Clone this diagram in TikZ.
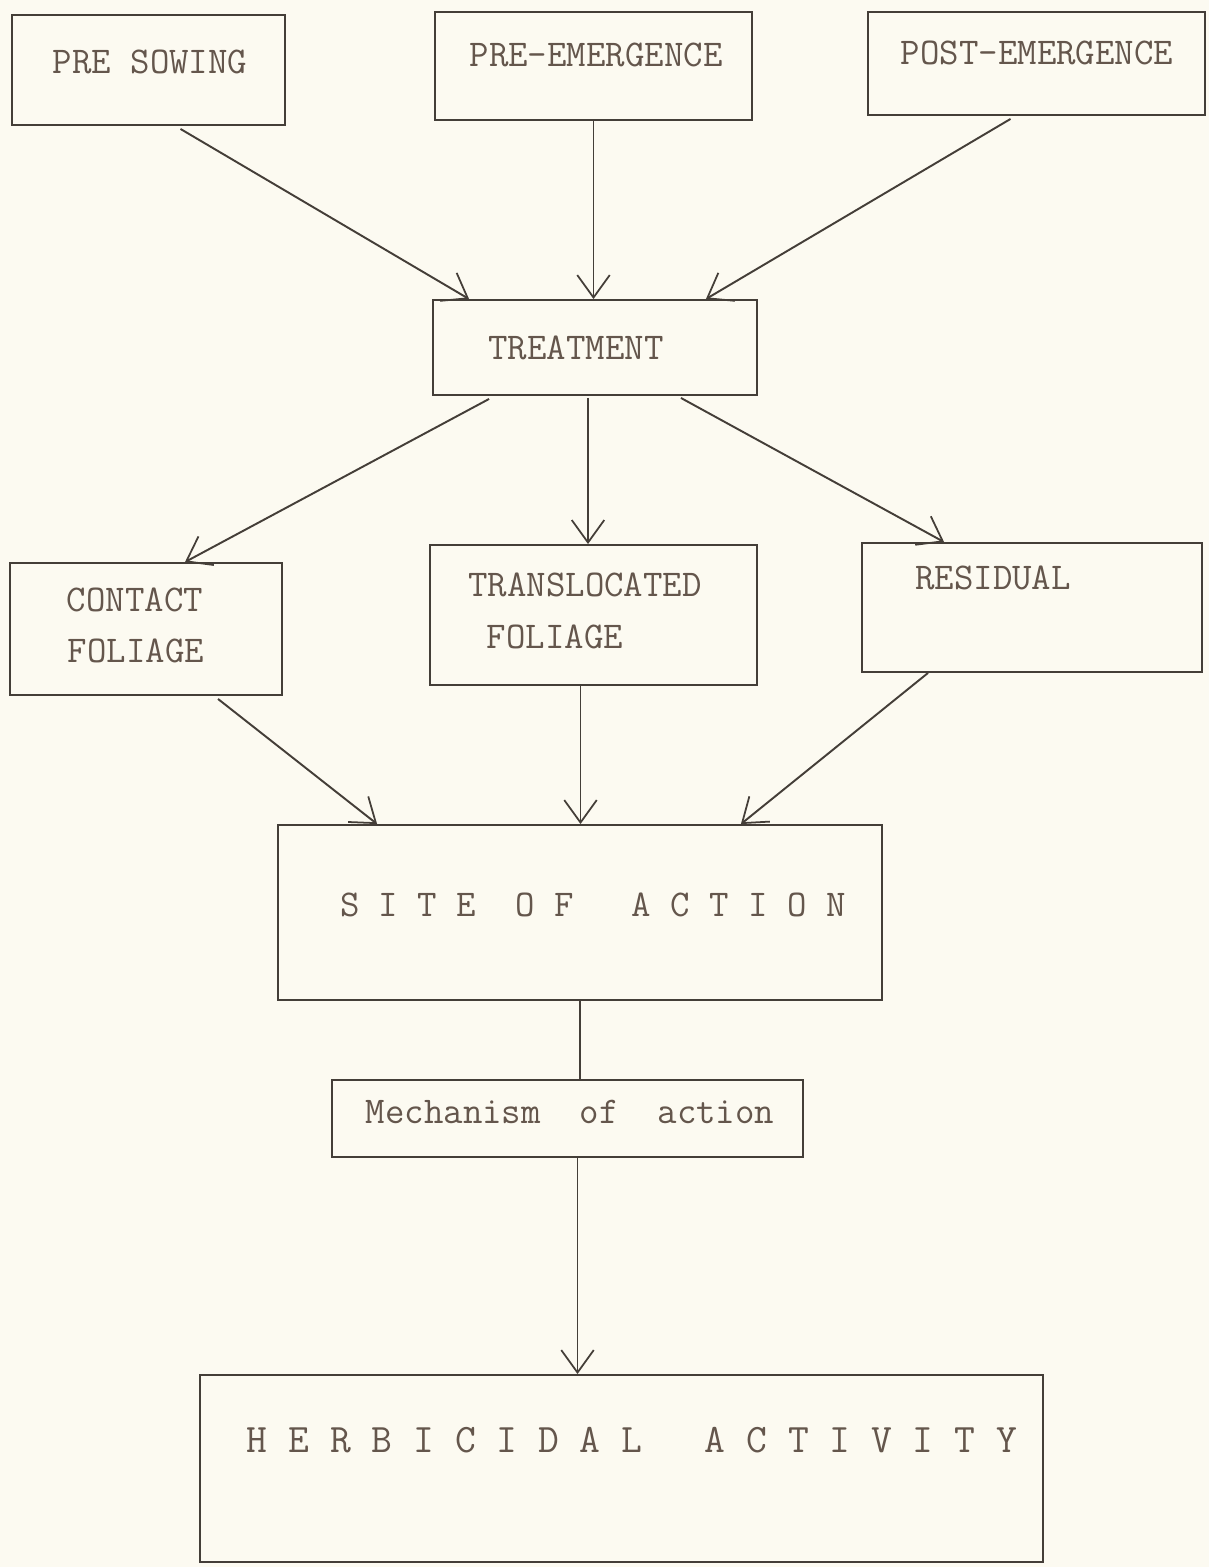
\documentclass[tikz,border=0pt]{standalone}
\usepackage{fontspec}
\usepackage{tikz}
\usetikzlibrary{arrows.meta, positioning, calc}
\definecolor{cPaper}{RGB}{252,250,241}
\definecolor{cLine}{RGB}{68,62,56}
\definecolor{cInk}{RGB}{100,86,76}
\tikzset{
	box/.style ={rectangle, draw=cLine, line width=1.1pt, inner sep=0pt},
	lbl/.style ={text=cInk, font={\ttfamily\fontsize{21.5}{26}\selectfont}, inner sep=0pt, anchor=center},
	flow/.style={-{Straight Barb[length=4.5mm, width=6.5mm, line width=1pt]}, draw=cLine, line width=1.1pt},
	link/.style={draw=cLine, line width=1.1pt},
}
\begin{document}
\begin{tikzpicture}[x=0.02cm, y=-0.02cm]
	\fill[cPaper] (0,0) rectangle (1209,1567);
	\useasboundingbox (0,0) rectangle (1209,1567);
	% application timing
	\node[box, minimum width=5.46cm, minimum height=2.2cm] (pre) at (148.5,70) {};
	\node[box, minimum width=6.34cm, minimum height=2.16cm] (preem) at (593.5,66) {};
	\node[box, minimum width=6.74cm, minimum height=2.06cm] (postem) at (1036.5,63.5) {};
	\node[lbl] (tpre) at (150,62) {PRE SOWING};
	\node[lbl] (tpreem) at (596,55) {PRE-EMERGENCE};
	\node[lbl] (tpostem) at (1037,53) {POST-EMERGENCE};
	\node[box, minimum width=6.48cm, minimum height=1.9cm] (treat) at (595,347.5) {};
	\node[lbl] (ttreat) at (576,348) {TREATMENT};
	% kinds of herbicide
	\node[box, minimum width=5.44cm, minimum height=2.64cm] (contact) at (146,629) {};
	\node[box, minimum width=6.54cm, minimum height=2.8cm] (transl) at (593.5,615) {};
	\node[box, minimum width=6.8cm, minimum height=2.58cm] (resid) at (1032,607.5) {};
	\node[lbl] (tcontact) at (135,600) {CONTACT};
	\node[lbl] (tcontactb) at (136,651) {FOLIAGE};
	\node[lbl] (ttransl) at (585,585) {TRANSLOCATED};
	\node[lbl] (ttranslb) at (555,637) {FOLIAGE};
	\node[lbl] (tresid) at (993,578) {RESIDUAL};
	\node[box, minimum width=12.08cm, minimum height=3.5cm] (site) at (580,912.5) {};
	\node[lbl] (tsite) at (593,905) {S~I~T~E~~O~F~~~A~C~T~I~O~N};
	\node[box, minimum width=9.42cm, minimum height=1.54cm] (mech) at (567.5,1118.5) {};
	\node[lbl] (tmech) at (570,1112) {Mechanism~~of~~action};
	\node[box, minimum width=16.86cm, minimum height=3.74cm] (herb) at (621.5,1468.5) {};
	\node[lbl, font={\ttfamily\fontsize{23}{28}\selectfont}] (therb) at (632,1440) {H~E~R~B~I~C~I~D~A~L~~~A~C~T~I~V~I~T~Y};
	% connectors
	\draw[flow] ($(pre.south)+(32,3)$) -- ($(treat.north west)+(37,0)$);
	\draw[flow] (preem.south) -- (preem.south |- treat.north);
	\draw[flow] ($(postem.south)+(-26,3)$) -- ($(treat.north east)+(-52,0)$);
	\draw[flow] ($(treat.south west)+(57,3)$) -- ($(contact.north)+(39,0)$);
	\draw[flow] ($(treat.south)+(-7,2)$) -- ($(treat.south |- transl.north)+(-7,0)$);
	\draw[flow] ($(treat.south east)+(-77,2)$) -- ($(resid.north west)+(83,0)$);
	\draw[flow] ($(contact.south)+(72,3)$) -- ($(site.north west)+(100,0)$);
	\draw[flow] ($(transl.south)+(-13,0)$) -- ($(transl.south |- site.north)+(-13,0)$);
	\draw[flow] ($(resid.south)+(-104,0)$) -- ($(site.north east)+(-142,0)$);
	\draw[link] (site.south) -- (site.south |- mech.north);
	\draw[flow] ($(mech.south)+(10,0)$) -- ($(mech.south |- herb.north)+(10,0)$);
\end{tikzpicture}
\end{document}
